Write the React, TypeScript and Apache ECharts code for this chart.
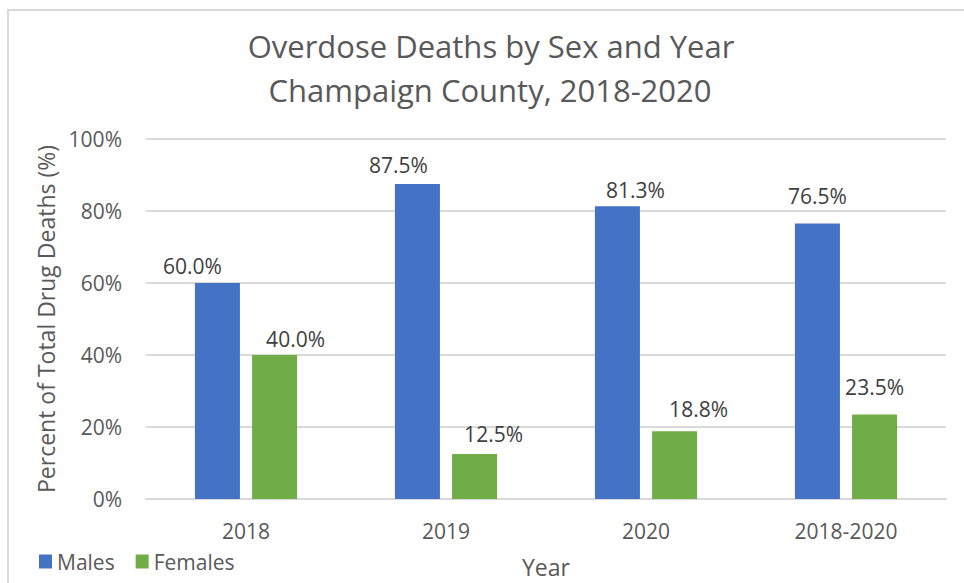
import React, { useEffect, useRef } from "react";
import * as echarts from "echarts";

const categories = ["2018", "2019", "2020", "2018-2020"];
const males = [60.0, 87.5, 81.3, 76.5];
const females = [40.0, 12.5, 18.8, 23.5];
const yTicks = [0, 20, 40, 60, 80, 100];
const titleLines = ["Overdose Deaths by Sex and Year", "Champaign County, 2018-2020"];
// label nudges (Excel labels were hand-positioned)
const maleLabelOffsets = [[-25, -1], [-19, -3], [18, 0], [0, -11]];
const femaleLabelOffsets = [[21, 0], [19, -4], [24, -6], [0, -11]];

const FONT = "Open Sans";
const TXT = "#595959";

export default function App() {
  const ref = useRef<HTMLDivElement>(null);
  useEffect(() => {
    if (!ref.current) return;
    const chart = echarts.init(ref.current, undefined, { renderer: "svg" });
    const mk = (vals: number[], offs: number[][]) =>
      vals.map((v, i) => ({ value: v, label: { offset: offs[i] } }));
    const labelCfg = {
      show: true,
      position: "top",
      distance: 6,
      color: "#404040",
      fontSize: 21,
      fontFamily: FONT,
      formatter: (p: any) => p.value.toFixed(1) + "%",
    };
    chart.setOption({
      animation: false,
      textStyle: { fontFamily: FONT },
      graphic: [
        {
          type: "rect",
          shape: { x: 8, y: 10, width: 1000, height: 1000 },
          style: { fill: "none", stroke: "#d9d9d9", lineWidth: 2 },
          silent: true,
        },
        {
          type: "text",
          x: 491,
          y: 46,
          style: {
            text: titleLines[0],
            fill: TXT,
            font: `31px "${FONT}"`,
            align: "center",
            verticalAlign: "middle",
          },
        },
        {
          type: "text",
          x: 490,
          y: 90,
          style: {
            text: titleLines[1],
            fill: TXT,
            font: `31px "${FONT}"`,
            align: "center",
            verticalAlign: "middle",
          },
        },
      ],
      legend: {
        left: 39,
        top: 551,
        padding: 0,
        itemWidth: 13,
        itemHeight: 14,
        itemGap: 21,
        icon: "rect",
        textStyle: { color: TXT, fontSize: 21, fontFamily: FONT },
        data: ["Males", "Females"],
      },
      grid: { left: 146, right: 18, top: 139, bottom: 84, containLabel: false },
      xAxis: {
        type: "category",
        data: categories,
        name: "Year",
        nameLocation: "middle",
        nameGap: 56,
        nameTextStyle: { color: TXT, fontSize: 23, fontFamily: FONT },
        axisLine: { show: true, lineStyle: { color: "#d9d9d9", width: 2 } },
        axisTick: { show: false },
        axisLabel: { color: TXT, fontSize: 21, margin: 21, fontFamily: FONT },
      },
      yAxis: {
        type: "value",
        min: yTicks[0],
        max: yTicks[yTicks.length - 1],
        interval: 20,
        name: "Percent of Total Drug Deaths (%)",
        nameLocation: "middle",
        nameGap: 86,
        nameTextStyle: { color: TXT, fontSize: 23, fontFamily: FONT },
        axisLine: { show: false },
        axisTick: { show: false },
        axisLabel: { color: TXT, fontSize: 21, margin: 24, formatter: "{value}%", fontFamily: FONT },
        splitLine: { lineStyle: { color: "#d9d9d9", width: 2 } },
      },
      series: [
        {
          name: "Males",
          type: "bar",
          data: mk(males, maleLabelOffsets),
          barWidth: 45,
          barGap: "27%",
          itemStyle: { color: "#4472C4" },
          label: labelCfg,
        },
        {
          name: "Females",
          type: "bar",
          data: mk(females, femaleLabelOffsets),
          barWidth: 45,
          itemStyle: { color: "#70AD47" },
          label: labelCfg,
        },
      ],
    });
    return () => chart.dispose();
  }, []);
  return (
    <div
      ref={ref}
      style={{ position: "fixed", left: 0, top: 0, width: 964, height: 583, background: "#fff" }}
    />
  );
}
